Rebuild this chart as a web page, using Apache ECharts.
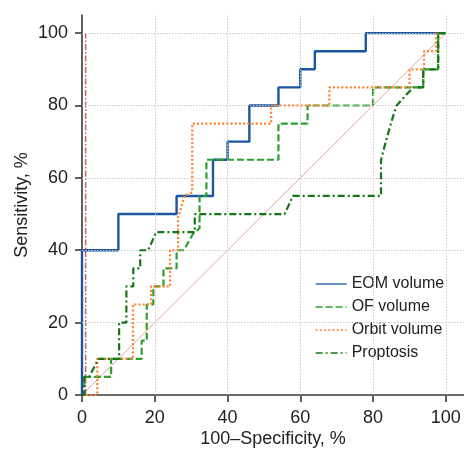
<!DOCTYPE html>
<html>
<head>
<meta charset="utf-8">
<script src="https://cdn.jsdelivr.net/npm/echarts@6/dist/echarts.min.js"></script>
<style>
  html, body { margin: 0; padding: 0; background: #ffffff; }
  #chart { width: 464px; height: 453px; }
</style>
</head>
<body>
<div id="chart"></div>
<script>
// ---- data (100-specificity %, sensitivity %) ----
const tickValues = [0, 20, 40, 60, 80, 100];
const seriesNames = ['EOM volume', 'OF volume', 'Orbit volume', 'Proptosis'];

const eomPoints = [[0,0],[0,40],[10,40],[10,50],[26,50],[26,55],[36,55],[36,65],[40,65],[40,70],[46,70],[46,80],[54,80],[54,85],[60,85],[60,90],[64,90],[64,95],[78,95],[78,100],[100,100]];
const ofPoints = [[0,0],[0.6,0],[0.6,5],[8,5],[8,10],[16.4,10],[16.4,15],[17.8,15],[17.8,25],[19.6,25],[19.6,30],[22.4,30],[22.4,35],[26,35],[26,40],[28,40],[30.5,44.5],[32.3,46],[32.3,55],[34.2,55],[34.2,65],[54,65],[54,75],[62,75],[62,80],[80,80],[80,85],[93.8,85],[93.8,90],[97.9,90],[97.9,100],[100,100]];
const orbitPoints = [[0,0],[4.2,0],[4.2,10],[14,10],[14,25],[19,25],[19,30],[24.2,30],[24.2,40],[26.4,40],[26.4,49],[28.2,55],[30.3,56],[30.3,75],[52,75],[52,80],[68,80],[68,85],[90,85],[90,90],[94,90],[94,95],[97.3,95],[97.3,100],[100,100]];
const proptosisPoints = [[0,0],[0.6,0],[0.6,5],[2,5],[4.5,10],[10.2,10],[10.2,20],[12.2,20],[12.2,30],[14.1,30],[14.1,35],[16,35],[16,40],[18.2,40],[20.4,45],[31,45],[31,50],[55.7,50],[58,55],[82.2,55],[82.2,65],[83.5,70],[85.5,77],[86.5,80],[91,85],[93.8,85],[93.8,90],[97.9,90],[97.9,100],[100,100]];
const diagonalPoints = [[0,0],[100,100]];
const cutoffPoints = [[1,0],[1,100]];

const colors = {
  eom: '#1a56a2',
  of: '#2ca02c',
  orbit: '#ff7f2a',
  proptosis: '#157515',
  diag: '#e3a3a3',
  cutoff: '#c45a5a'
};

const FONT = '"Liberation Sans", Arial, Helvetica, sans-serif';

const gridLineData = [];
[20, 40, 60, 80, 100].forEach(v => { gridLineData.push({ xAxis: v }); gridLineData.push({ yAxis: v }); });

const chart = echarts.init(document.getElementById('chart'), null, { renderer: 'canvas' });

function axisCommon(name, nameGap, rotate) {
  return {
    type: 'value',
    min: 0,
    max: 105,
    interval: 20,
    name: name,
    nameLocation: 'middle',
    nameGap: nameGap,
    nameRotate: rotate,
    nameMoveOverlap: false,
    nameTextStyle: { fontSize: 18, color: '#222', fontFamily: FONT },
    axisLine: { show: true, onZero: false, lineStyle: { color: '#3a3a3a', width: 1.6 } },
    axisTick: { show: true, length: 7, inside: false, customValues: tickValues, lineStyle: { color: '#3a3a3a', width: 1.6 } },
    axisLabel: { customValues: tickValues, fontSize: 18, color: '#222', margin: 14, fontFamily: FONT },
    splitLine: { show: false }
  };
}

const option = {
  animation: false,
  backgroundColor: '#ffffff',
  textStyle: { fontFamily: FONT },
  grid: { left: 82, top: 15, width: 383, height: 383, containLabel: false },
  xAxis: axisCommon('100\u2013Specificity, %', 35, 0),
  yAxis: axisCommon('Sensitivity, %', 51, 90),
  legend: {
    data: seriesNames,
    orient: 'vertical',
    left: 310,
    top: 271,
    itemWidth: 31,
    itemHeight: 14,
    itemGap: 7,
    textStyle: { fontSize: 16, color: '#222', fontFamily: FONT, lineHeight: 16 },
    lineStyle: { width: 1.3 },
    itemStyle: { opacity: 0 }
  },
  series: [
    {
      name: 'diagonal',
      type: 'line',
      data: diagonalPoints,
      symbol: 'none',
      z: 1,
      silent: true,
      lineStyle: { color: colors.diag, width: 1 },
      markLine: {
        silent: true,
        symbol: 'none',
        label: { show: false },
        lineStyle: { color: '#c9c9c9', type: [1.5, 1.5], width: 1 },
        data: gridLineData
      }
    },
    {
      name: 'cutoff',
      type: 'line',
      data: cutoffPoints,
      symbol: 'none',
      z: 2,
      silent: true,
      lineStyle: { color: colors.cutoff, width: 1.4, type: [6, 2, 1.5, 2] }
    },
    {
      name: seriesNames[0],
      type: 'line',
      data: eomPoints,
      symbol: 'none',
      z: 3,
      color: colors.eom,
      lineStyle: { color: colors.eom, width: 2.4, type: 'solid' }
    },
    {
      name: seriesNames[1],
      type: 'line',
      data: ofPoints,
      symbol: 'none',
      z: 4,
      color: colors.of,
      lineStyle: { color: colors.of, width: 2.2, type: [7, 3] }
    },
    {
      name: seriesNames[2],
      type: 'line',
      data: orbitPoints,
      symbol: 'none',
      z: 5,
      color: colors.orbit,
      lineStyle: { color: colors.orbit, width: 2.2, type: [2, 2.2] }
    },
    {
      name: seriesNames[3],
      type: 'line',
      data: proptosisPoints,
      symbol: 'none',
      z: 6,
      color: colors.proptosis,
      lineStyle: { color: colors.proptosis, width: 2.2, type: [7, 3, 2, 3] }
    }
  ]
};

chart.setOption(option);
</script>
</body>
</html>
